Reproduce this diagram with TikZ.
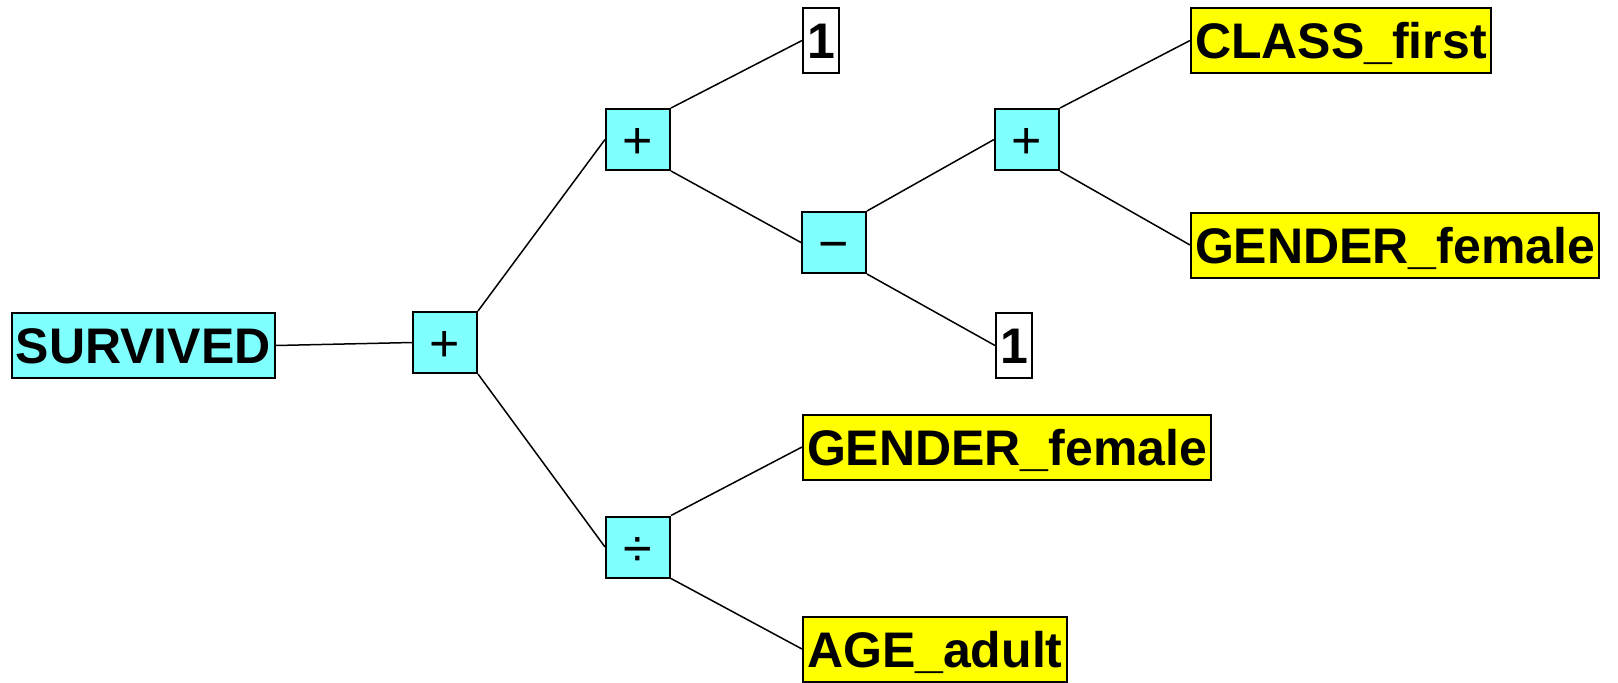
\documentclass[tikz,border=0pt]{standalone}
\usepackage{fontspec}
\setmainfont{Liberation Sans}
\usepackage{tikz}
\tikzset{>=stealth}
\definecolor{opcyan}{RGB}{128,255,255}
\definecolor{varyellow}{RGB}{255,255,0}
\tikzset{
  leaf/.style={draw,line width=1pt,inner xsep=2pt,inner ysep=0pt,minimum height=32.5pt,
    text height=18pt,text depth=0pt,font=\fontsize{25}{30}\selectfont\bfseries,anchor=west},
  target/.style={leaf,fill=opcyan},
  var/.style={leaf,fill=varyellow},
  const/.style={leaf,fill=white},
  op/.style={draw,line width=1pt,fill=opcyan,minimum width=32pt,minimum height=30.5pt,
    inner sep=0pt,text height=19pt,text depth=0pt,font=\fontsize{26}{30}\selectfont},
  branch/.style={line width=0.75pt}
}

\begin{document}
\begin{tikzpicture}[x=0.5pt,y=-0.5pt]
        \useasboundingbox (0,0) rectangle (1618,682);

        \node[target] (S) at (11,345.5) {SURVIVED};
        \node[op] (P1) at (445,342.5) {+};
        \node[op] (P2) at (638,139.5) {+};
        \node[op] (D) at (638,547) {÷};
        \node[const] (O1) at (802,40.5) {1};
        \node[op] (M) at (834,242.5) {−};
        \node[op] (P3) at (1027,139.5) {+};
        \node[const] (O2) at (995,345.5) {1};
        \node[var] (C) at (1190,40.5) {CLASS\_first};
        \node[var] (G1) at (1190,245) {GENDER\_female};
        \node[var] (G2) at (802,447) {GENDER\_female};
        \node[var] (A) at (802,649) {AGE\_adult};

        \draw[branch] (S.east)--(P1.west);
        \draw[branch] (P1.north east)--(P2.west);
        \draw[branch] (P1.south east)--(D.west);
        \draw[branch] (P2.north east)--(O1.west);
        \draw[branch] (P2.south east)--(M.west);
        \draw[branch] (M.north east)--(P3.west);
        \draw[branch] (M.south east)--(O2.west);
        \draw[branch] (P3.north east)--(C.west);
        \draw[branch] (P3.south east)--(G1.west);
        \draw[branch] (D.north east)--(G2.west);
        \draw[branch] (D.south east)--(A.west);
\end{tikzpicture}
\end{document}
